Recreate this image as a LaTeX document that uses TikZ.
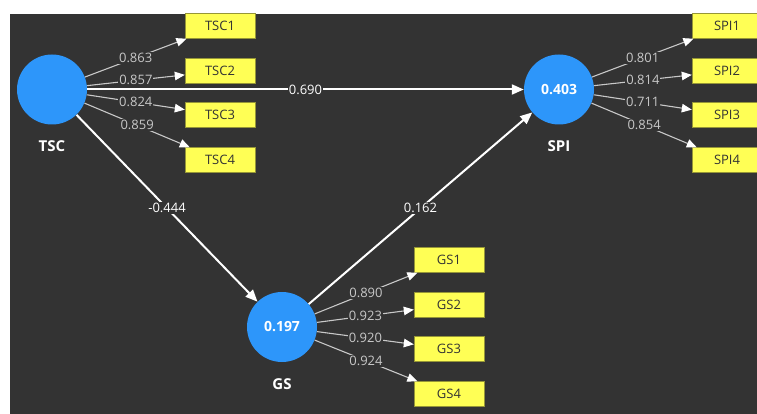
\documentclass[tikz,border=0pt]{standalone}
\usepackage{fontspec}
\setmainfont{Open Sans}
\usetikzlibrary{positioning,arrows.meta}
\definecolor{bgdark}{RGB}{51,51,51}
\definecolor{lvblue}{RGB}{45,150,250}
\definecolor{mvyellow}{RGB}{255,255,85}
\definecolor{mvborder}{RGB}{150,150,55}
\definecolor{loadgray}{RGB}{200,200,200}

\begin{document}
\begin{tikzpicture}[x=1pt,y=-1pt,>={Triangle[length=10pt,width=8.5pt,color=white]},
  latent/.style={circle,fill=lvblue,minimum size=70pt,inner sep=0pt,text=white,font=\fontsize{14}{14}\selectfont\bfseries},
  lvname/.style={text=white,inner sep=0pt,font=\fontsize{15}{15}\selectfont\bfseries},
  indicator/.style={draw=mvborder,fill=mvyellow,minimum width=70pt,minimum height=25pt,inner sep=0pt,text=bgdark,font=\fontsize{13}{13}\selectfont},
  load/.style={->,draw=loadgray,line width=1.1pt},
  structural/.style={-{Triangle[length=12pt,width=10pt]},draw=white,line width=2pt},
  loadlbl/.style={fill=bgdark,text=loadgray,inner sep=1pt,font=\fontsize{13}{13}\selectfont},
  coef/.style={fill=bgdark,text=white,inner sep=1pt,font=\fontsize{13}{13}\selectfont}]
  % canvas: white margin top and left, dark panel
  \fill[white] (0,0) rectangle (757,414);
  \fill[bgdark] (10,14) rectangle (757,414);
  \useasboundingbox (0,0) rectangle (757,414);

  % latent variables
  \node[latent] (tsc) at (52,89.5) {};
  \node[latent] (spi) at (559,89.5) {0.403};
  \node[latent] (gs) at (282,327) {0.197};
  \node[lvname,below=16pt of tsc] (tscname) {TSC};
  \node[lvname,below=16pt of spi] (spiname) {SPI};
  \node[lvname,below=16pt of gs] (gsname) {GS};

  % indicators
  \foreach \i/\y in {1/26,2/71,3/115,4/160} {
    \node[indicator] (tsc\i) at (220,\y) {TSC\i};
    \node[indicator] (spi\i) at (727,\y) {SPI\i};
  }
  \foreach \i/\y in {1/260,2/305,3/349,4/394}
    \node[indicator] (gs\i) at (449,\y) {GS\i};

  % outer loadings
  \foreach \i/\v in {1/0.863,2/0.857,3/0.824,4/0.859}
    \draw[load] (tsc) -- node[loadlbl] {\v} (tsc\i);
  \foreach \i/\v in {1/0.801,2/0.814,3/0.711,4/0.854}
    \draw[load] (spi) -- node[loadlbl] {\v} (spi\i);
  \foreach \i/\v in {1/0.890,2/0.923,3/0.920,4/0.924}
    \draw[load] (gs) -- node[loadlbl] {\v} (gs\i);

  % path coefficients
  \draw[structural] (tsc) -- node[coef] {0.690} (spi);
  \draw[structural] (tsc) -- node[coef] {-0.444} (gs);
  \draw[structural] (gs) -- node[coef] {0.162} (spi);
\end{tikzpicture}
\end{document}
